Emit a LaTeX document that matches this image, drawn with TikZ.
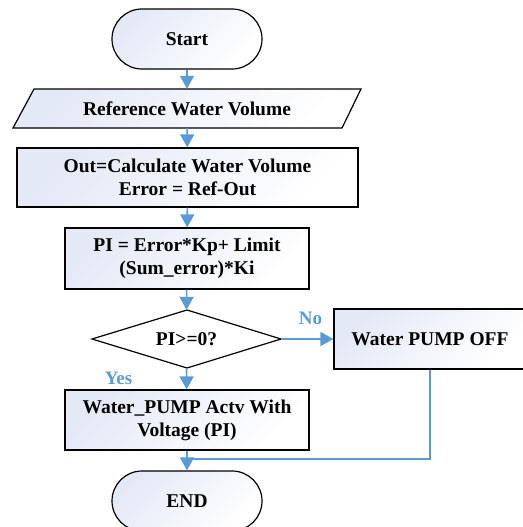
\documentclass[tikz,border=0pt]{standalone}
\usepackage{fontspec}
\setmainfont{Liberation Serif}
\usetikzlibrary{arrows.meta}
\definecolor{flow}{HTML}{5B9BD5}
\definecolor{shadeA}{HTML}{E4E9F6}
\begin{document}
\begin{tikzpicture}[x=1pt,y=-1pt,
  txt/.style={font=\fontsize{19.5}{23}\selectfont\bfseries, align=center, text=black},
  fillsh/.style={top color=shadeA, bottom color=white, shading angle=45},
  box/.style={txt, draw=black, line width=1.2pt, fillsh, inner sep=0pt},
  term/.style={box, rounded corners=30pt},
  ghost/.style={txt, draw=none, inner sep=0pt},
  arr/.style={draw=flow, line width=1.6pt, -{Triangle[width=14pt,length=13pt]}},
  ln/.style={draw=flow, line width=1.6pt},
  lbl/.style={font=\fontsize{19}{22}\selectfont\bfseries, text=flow}
]
\useasboundingbox (0,0) rectangle (522,527);
% Start
\node[term, minimum width=150pt, minimum height=60pt] (start) at (187,39) {Start};
% Reference (parallelogram)
\shade[fillsh] (34,89) -- (361,89) -- (342,128) -- (13,128) -- cycle;
\draw[line width=1.2pt] (34,89) -- (361,89) -- (342,128) -- (13,128) -- cycle;
\node[ghost, minimum width=300pt, minimum height=39pt] (ref) at (187,108.5) {Reference Water Volume};
% Calculate
\node[box, minimum width=341pt, minimum height=59pt] (calc) at (187.5,177.5) {Out=Calculate Water Volume\\Error = Ref-Out};
% PI
\node[box, minimum width=244pt, minimum height=61pt] (pi) at (187,258.5) {PI = Error*Kp+ Limit\\(Sum\_error)*Ki};
% Decision
\draw[line width=1.2pt, fill=white] (187,310) -- (281,339) -- (187,368) -- (92,339) -- cycle;
\node[ghost, minimum width=189pt, minimum height=58pt] (dec) at (186.5,339) {PI>=0?};
% Pump off
\node[box, minimum width=192pt, minimum height=60pt] (off) at (430,339) {Water PUMP OFF};
% Pump active
\node[box, minimum width=244pt, minimum height=60pt] (act) at (187,420) {Water\_PUMP Actv With\\Voltage (PI)};
% End
\node[term, minimum width=150pt, minimum height=60pt] (end) at (187,501) {END};
% connectors
\draw[arr] (start) -- (ref);
\draw[arr] (ref) -- (calc);
\draw[arr] (calc) -- (pi);
\draw[arr] (pi) -- (dec.north);
\draw[arr] (dec.east) -- (off);
\draw[arr] (dec.south) -- (act);
\draw[arr] (act) -- (end);
\coordinate (merge) at (187,459);
\draw[ln] (off.south) |- (merge);
% labels
\node[lbl] (no) at (310.5,318) {No};
\node[lbl] (yes) at (118.5,378) {Yes};
\end{tikzpicture}
\end{document}
